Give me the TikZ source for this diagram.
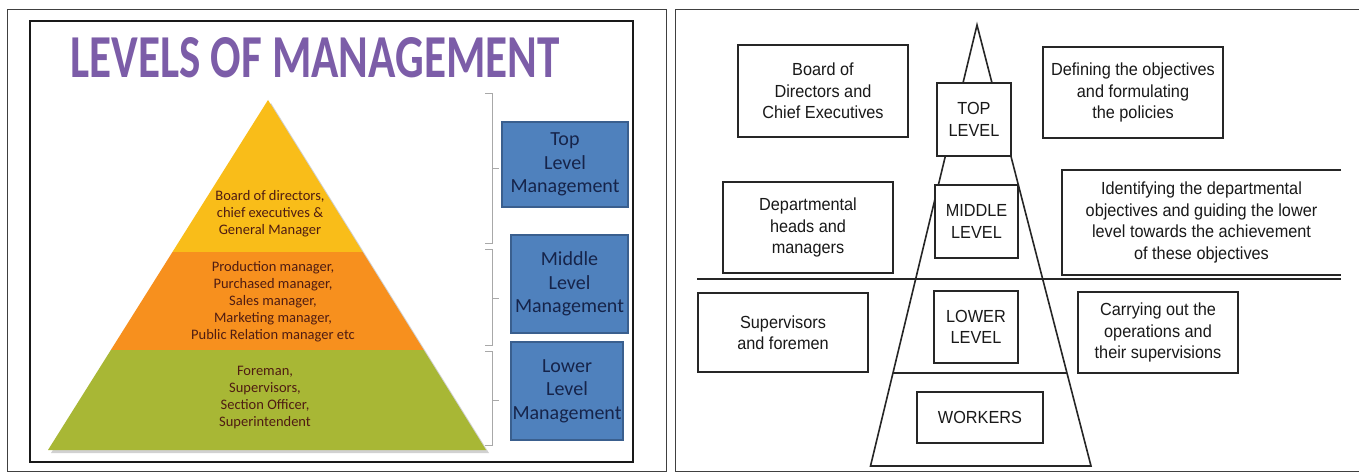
\documentclass[tikz,border=0pt]{standalone}
\usepackage{graphicx}
\usepackage{fontspec}
\setmainfont{Carlito}
\newfontfamily\rfont[FakeStretch=0.93]{Liberation Sans}
\usetikzlibrary{calc}
\definecolor{yel}{HTML}{F9BD19}
\definecolor{org}{HTML}{F7901E}
\definecolor{grn}{HTML}{A8B735}
\definecolor{pyrtext}{HTML}{4F1C12}
\definecolor{bluebox}{HTML}{4F81BD}
\definecolor{blueedge}{HTML}{3A5F8E}
\definecolor{bluetext}{HTML}{16244A}
\definecolor{titlepurple}{HTML}{7C5DA8}
\definecolor{bracketgray}{HTML}{A8A8A8}
\tikzset{
  panel/.style={draw=black!75, line width=1pt},
  pyrlabel/.style={font=\fontsize{14.5}{17}\selectfont, text=pyrtext, align=center, inner sep=0pt},
  levelbox/.style={fill=bluebox, draw=blueedge, line width=1.5pt, text=bluetext,
    font=\fontsize{20}{23.5}\selectfont, align=center, inner sep=0pt},
  sketchbox/.style={draw=black!85, fill=white, line width=1.6pt,
    font=\rfont\fontsize{17.5}{21.5}\selectfont, text=black!90, align=center, inner sep=0pt},
  sketchtext/.style={font=\rfont\fontsize{17.5}{21.5}\selectfont, text=black!90, align=center, inner sep=0pt},
  sketchline/.style={draw=black!85, line width=1.6pt},
  bracket/.style={draw=bracketgray, line width=0.8pt},
  titletext/.style={font=\bfseries\fontsize{61}{61}\selectfont, inner sep=0pt},
}
\begin{document}
\begin{tikzpicture}[x=1pt, y=-1pt]
\useasboundingbox (0,0) rectangle (1359,473);
\fill[white] (0,0) rectangle (1359,473);

% ---------------- left panel ----------------
\draw[panel] (7,10) rectangle (666,471);
\draw[line width=2.6pt, black!90, fill=white] (30,21) rectangle (633,462);

\node[titletext, text=titlepurple] (title) at (315,57.5) {\scalebox{0.74}[1]{LEVELS OF MANAGEMENT}};

% pyramid
\coordinate (lapex) at (268,100);
\coordinate (lbl) at (48,450);
\coordinate (lbr) at (486,450);
\fill[black, opacity=0.18] ($(lapex)+(3,3)$) -- ($(lbr)+(3,3)$) -- ($(lbl)+(3,3)$) -- cycle;
\begin{scope}
  \clip (lapex) -- (lbr) -- (lbl) -- cycle;
  \fill[yel] (40,90) rectangle (500,252);
  \fill[org] (40,252) rectangle (500,350);
  \fill[grn] (40,350) rectangle (500,460);
\end{scope}

\node[pyrlabel] (toptext) at (270,214) {Board of directors,\\chief executives \&\\General Manager};
\node[pyrlabel] (midtext) at (273,302) {Production manager,\\Purchased manager,\\Sales manager,\\Marketing manager,\\Public Relation manager etc};
\node[pyrlabel] (lowtext) at (265,398) {Foreman,\\Supervisors,\\Section Officer,\\Superintendent};

% brackets
\draw[bracket] (485,93) -- (492,93) -- (492,243) -- (485,243);
\draw[bracket] (492,168) -- (499,168);
\draw[bracket] (485,249) -- (492,249) -- (492,345) -- (485,345);
\draw[bracket] (492,298) -- (499,298);
\draw[bracket] (485,351) -- (492,351) -- (492,445) -- (485,445);
\draw[bracket] (492,400) -- (499,400);

% blue boxes
\node[levelbox, minimum width=126pt, minimum height=85pt] (toplvl) at (565,164.5) {Top\\Level\\Management};
\node[levelbox, minimum width=117pt, minimum height=98pt] (midlvl) at (569.5,284) {Middle\\Level\\Management};
\node[levelbox, minimum width=112pt, minimum height=98pt] (lowlvl) at (567,391) {Lower\\Level\\Management};

% ---------------- right panel ----------------
\draw[panel] (1362,10) -- (675,10) -- (675,471) -- (1362,471);

\coordinate (apex) at (977,25);
\coordinate (bl) at (870.5,466);
\coordinate (br) at (1091,466);
\draw[sketchline, line join=miter] (apex) -- (br) -- (bl) -- cycle;
\draw[sketchline, line width=2.6pt] ($(apex)!0.789!(bl)$) -- ($(apex)!0.789!(br)$);
\coordinate (sepL) at (697,279);
\coordinate (sepR) at (1341,279);
\draw[sketchline, line width=2.2pt] (sepL) -- (sepR);

\node[sketchbox, minimum width=74pt, minimum height=73pt] (top) at (974,119.5) {TOP\\LEVEL};
\node[sketchbox, minimum width=83pt, minimum height=73pt] (middle) at (976.5,221.5) {MIDDLE\\LEVEL};
\node[sketchbox, minimum width=84pt, minimum height=72pt] (lower) at (976,327) {LOWER\\LEVEL};
\node[sketchbox, minimum width=126pt, minimum height=51pt] (workers) at (980,417.5) {WORKERS};

\node[sketchbox, minimum width=170pt, minimum height=92pt] (board) at (823,91) {Board of\\Directors and\\Chief Executives};
\node[sketchbox, minimum width=180pt, minimum height=91pt] (defining) at (1133,92.5) {Defining the objectives\\and formulating\\the policies};
\node[sketchbox, minimum width=170pt, minimum height=91pt] (dept) at (808,227.5) {Departmental\\heads and\\managers};
\node[sketchtext, minimum width=279pt, minimum height=105pt] (ident) at (1201.5,222.5) {Identifying the departmental\\objectives and guiding the lower\\level towards the achievement\\of these objectives};
\draw[sketchline] (ident.north east) -- (ident.north west) -- (ident.south west) -- (ident.south east);
\node[sketchbox, minimum width=170pt, minimum height=79pt] (superv) at (783,332.5) {Supervisors\\and foremen};
\node[sketchbox, minimum width=160pt, minimum height=81pt] (carry) at (1158,332.5) {Carrying out the\\operations and\\their supervisions};
\end{tikzpicture}
\end{document}
